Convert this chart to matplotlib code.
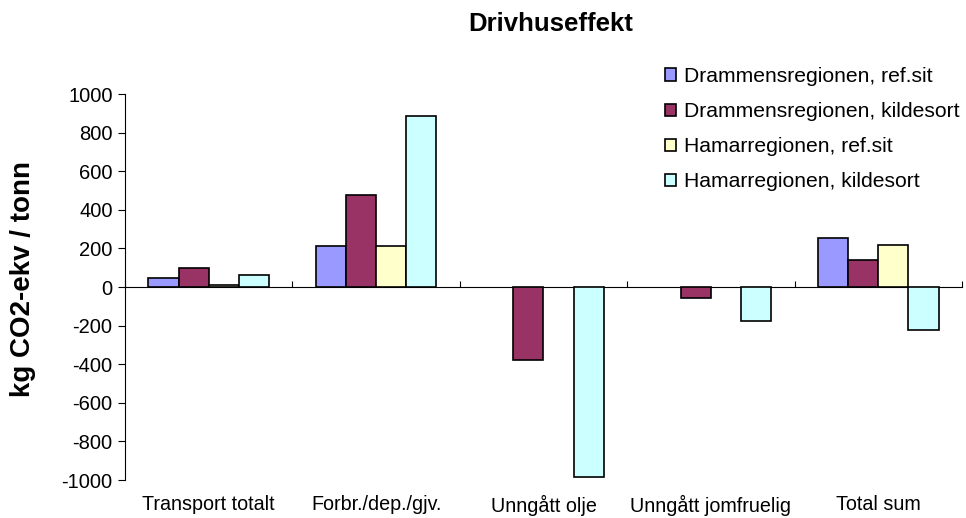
import matplotlib
matplotlib.use("Agg")
import matplotlib.pyplot as plt
import numpy as np

plt.rcParams['font.family'] = ['Liberation Sans', 'DejaVu Sans']

categories = ["Transport totalt", "Forbr./dep./gjv.", "Unngått olje", "Unngått jomfruelig", "Total sum"]
series_names = ["Drammensregionen, ref.sit", "Drammensregionen, kildesort",
                "Hamarregionen, ref.sit", "Hamarregionen, kildesort"]
drammen_ref = [49, 214, None, None, 252]
drammen_kilde = [100, 477, -380, -55, 141]
hamar_ref = [8, 214, None, None, 216]
hamar_kilde = [60, 884, -984, -176, -225]
colors = ["#9999FF", "#993366", "#FFFFCC", "#CCFFFF"]
yticks = list(range(-1000, 1001, 200))

fig = plt.figure(figsize=(9.66, 5.18), dpi=100)
ax = fig.add_axes([125/966, 1-480/518, (962-125)/966, (480-94)/518])

x = np.arange(len(categories))
w = 0.18
allv = [drammen_ref, drammen_kilde, hamar_ref, hamar_kilde]
for i, (vals, c, name) in enumerate(zip(allv, colors, series_names)):
    v = np.array([np.nan if a is None else a for a in vals], dtype=float)
    ax.bar(x + (i - 1.5) * w, v, w, color=c, edgecolor='black', linewidth=1.2, label=name, zorder=3)

ax.set_xlim(-0.5, len(categories) - 0.5)
ax.set_ylim(-1000, 1000)
ax.set_yticks(yticks)
ax.set_yticklabels([str(t) for t in yticks], fontsize=14.5)
ax.tick_params(axis='y', direction='out', length=5, width=0.8, color='black', pad=4)
ax.set_xticks(x)
ax.set_xticklabels(categories, fontsize=14.2)
ax.tick_params(axis='x', length=0, pad=11)
for s in ['top', 'right', 'bottom']:
    ax.spines[s].set_visible(False)
ax.spines['left'].set_color('black')
ax.spines['left'].set_linewidth(0.8)

sec = ax.secondary_xaxis(0.5)
sec.set_xticks(np.arange(len(categories) + 1) - 0.5)
sec.set_xticklabels([])
sec.tick_params(direction='out', length=4, width=0.8, color='black')
sec.spines['bottom'].set_color('#808080')
sec.spines['bottom'].set_linewidth(1)

fig.text(23/966, 1-279/518, "kg CO2-ekv / tonn", rotation=90, ha='center', va='center',
         fontsize=20, fontweight='bold')
fig.text(551/966, 1-24/518, "Drivhuseffekt", ha='center', va='center', fontsize=18.5, fontweight='bold')

leg = fig.legend(loc='upper left', bbox_to_anchor=(665/966, 1-67/518), frameon=False,
                 fontsize=15.2, handlelength=0.5, handleheight=0.5, handletextpad=0.4,
                 labelspacing=0.76, borderaxespad=0, borderpad=0)

fig.savefig("out.png", dpi=100)
